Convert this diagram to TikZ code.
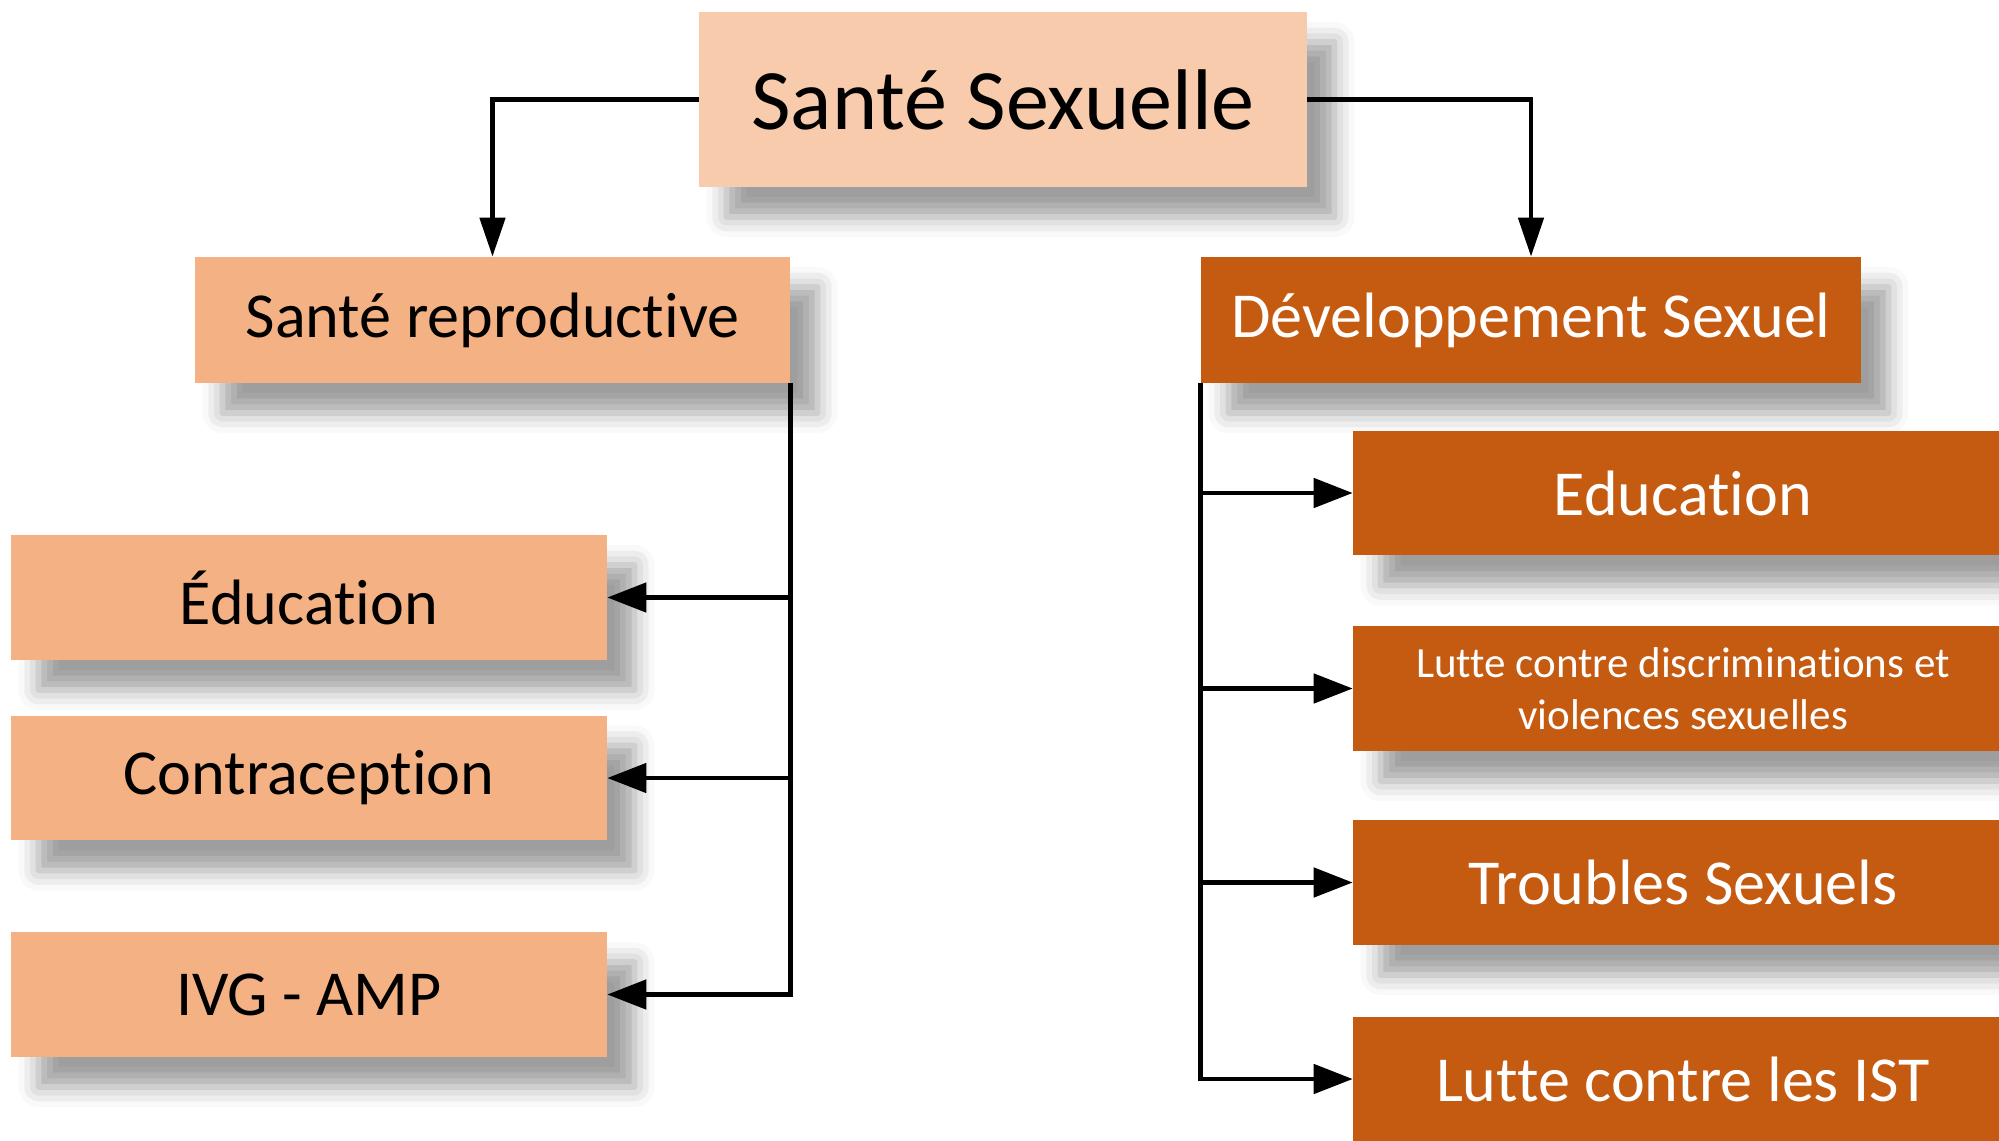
\documentclass[tikz,border=0pt]{standalone}
\usepackage{fontspec}
\setmainfont[Ligatures=NoCommon]{Carlito}
\usepackage{tikz}
\usetikzlibrary{arrows.meta,shadows.blur}

\definecolor{peachlight}{HTML}{F7CBAC}
\definecolor{peach}{HTML}{F4B183}
\definecolor{rust}{HTML}{C55A11}

\begin{document}
\begin{tikzpicture}[x=0.02cm, y=-0.02cm,
  box/.style={inner sep=0pt, align=center, minimum height=2.5cm,
    blur shadow={shadow xshift=0.55cm, shadow yshift=-0.6cm,
      shadow blur radius=0.4cm, shadow opacity=38}},
  lbox/.style={box, fill=peach, minimum width=11.92cm,
    font=\fontsize{36.5}{44}\selectfont},
  rbox/.style={box, fill=rust, text=white, minimum width=13.2cm,
    font=\fontsize{36.5}{44}\selectfont},
  conn/.style={line width=2.7pt},
  tip/.style={-{Triangle[length=0.78cm,width=0.58cm]}}
]
 \clip (0,0) rectangle (1999,1140);

% Top
 \node[box, fill=peachlight, minimum width=12.16cm, minimum height=3.5cm,
   font=\fontsize{49}{58}\selectfont] (sante) at (1003,99.5) {Santé Sexuelle};

% Branches
 \node[lbox, minimum width=11.9cm, minimum height=2.52cm] (repro) at (492.5,320) {Santé reproductive};
 \node[rbox, minimum height=2.52cm] (devel) at (1531,320) {Développement Sexuel};

% Left column
 \node[lbox] (educ) at (309,597.5) {Éducation};
 \node[lbox] (contra) at (309,778) {Contraception};
 \node[lbox] (ivg) at (309,994.5) {IVG - AMP};

% Right column
 \node[rbox] (educd) at (1683,493) {Education};
 \node[rbox, font=\fontsize{24.5}{29.5}\selectfont] (lutte) at (1683,688.5)
   {Lutte contre discriminations et\\violences sexuelles};
 \node[rbox] (troubles) at (1683,882.5) {Troubles Sexuels};
 \node[rbox] (ist) at (1683,1079) {Lutte contre les IST};

% Arrows
 \draw[conn, -{Triangle[length=0.78cm,width=0.5cm]}] (sante.west) -| (repro.north);
 \draw[conn, -{Triangle[length=0.78cm,width=0.5cm]}] (sante.east) -| (devel.north);

 \draw[conn, tip] (repro.south east) |- (ivg.east);
 \draw[conn, tip] (repro.south east |- educ.east) -- (educ.east);
 \draw[conn, tip] (repro.south east |- contra.east) -- (contra.east);

 \draw[conn, tip] (devel.south west) |- (ist.west);
 \draw[conn, tip] (devel.south west |- educd.west) -- (educd.west);
 \draw[conn, tip] (devel.south west |- lutte.west) -- (lutte.west);
 \draw[conn, tip] (devel.south west |- troubles.west) -- (troubles.west);

\end{tikzpicture}
\end{document}
